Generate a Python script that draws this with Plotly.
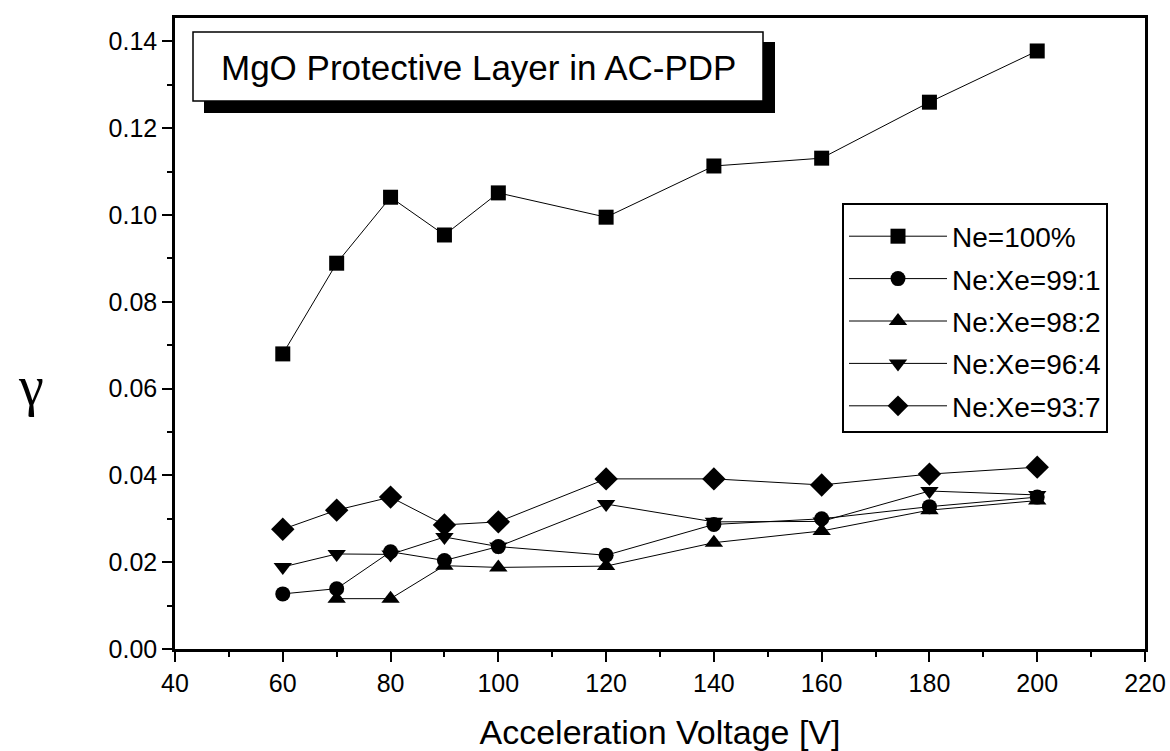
import plotly.graph_objects as go

# ---- data ----
voltage = [60, 70, 80, 90, 100, 120, 140, 160, 180, 200]
ne_100 = [0.0680, 0.0889, 0.1041, 0.0954, 0.1051, 0.0995, 0.1113, 0.1131, 0.1260, 0.1378]
ne_xe_99_1 = [0.0127, 0.0139, 0.0224, 0.0204, 0.0236, 0.0216, 0.0287, 0.0300, 0.0328, 0.0350]
ne_xe_98_2 = [None, 0.0116, 0.0116, 0.0192, 0.0188, 0.0191, 0.0245, 0.0272, 0.0320, 0.0342]
ne_xe_96_4 = [0.0189, 0.0219, 0.0218, 0.0258, 0.0236, 0.0334, 0.0293, 0.0294, 0.0364, 0.0355]
ne_xe_93_7 = [0.0276, 0.0320, 0.0350, 0.0286, 0.0293, 0.0392, 0.0392, 0.0378, 0.0403, 0.0419]

series_names = ["Ne=100%", "Ne:Xe=99:1", "Ne:Xe=98:2", "Ne:Xe=96:4", "Ne:Xe=93:7"]
series_values = [ne_100, ne_xe_99_1, ne_xe_98_2, ne_xe_96_4, ne_xe_93_7]
symbols = ["square", "circle", "triangle-up", "triangle-down", "diamond"]
marker_sizes = [15, 15, 16, 16, 18]

title_text = "MgO Protective Layer in AC-PDP"
x_title = "Acceleration Voltage [V]"
y_title = "γ"

FONT = "Liberation Sans, Arial, sans-serif"

fig = go.Figure()
for i, (name, vals, sym, ms) in enumerate(zip(series_names, series_values, symbols, marker_sizes)):
    fig.add_trace(go.Scatter(
        x=voltage, y=vals, name=name, mode="lines+markers",
        legendgroup=f"g{i}",
        connectgaps=False,
        line=dict(color="black", width=1),
        marker=dict(symbol=sym, size=ms, color="black", line=dict(width=0)),
    ))

# plot-area pixel geometry helpers
L, R, T, B = 175, 1145, 18, 649
W, H = R - L, B - T
def px(xp):
    return (xp - L) / W
def py(yp):
    return (B - yp) / H

shapes = [
    # shadow of the title box
    dict(type="rect", xref="paper", yref="paper",
         x0=px(204), x1=px(775), y0=py(113), y1=py(42),
         fillcolor="black", line=dict(width=0), layer="above"),
    # title box
    dict(type="rect", xref="paper", yref="paper",
         x0=px(193), x1=px(763), y0=py(101), y1=py(32),
         fillcolor="white", line=dict(color="black", width=1.5), layer="above"),
]

annotations = [
    dict(text=title_text, xref="paper", yref="paper",
         x=px(478), y=py(67), xanchor="center", yanchor="middle",
         showarrow=False, font=dict(family=FONT, size=35, color="black")),
    dict(text=y_title, xref="paper", yref="paper",
         x=px(31), y=py(386), xanchor="center", yanchor="middle",
         showarrow=False, font=dict(family="Liberation Serif, Times New Roman, serif", size=56, color="black")),
]

fig.update_layout(
    width=1170, height=751, autosize=False,
    margin=dict(l=L, r=1170 - R, t=T, b=751 - B, pad=0),
    paper_bgcolor="white", plot_bgcolor="white",
    font=dict(family=FONT, color="black"),
    showlegend=True,
    legend=dict(
        x=px(842), y=py(203), xanchor="left", yanchor="top",
        bordercolor="black", borderwidth=2, bgcolor="white",
        font=dict(family=FONT, size=28, color="black"),
        itemwidth=98, tracegroupgap=3,
        title=dict(text=" ", font=dict(size=5)),
    ),
    shapes=shapes,
    annotations=annotations,
    xaxis=dict(
        range=[40, 220], tick0=40, dtick=20, automargin=False,
        ticks="outside", ticklen=10, tickwidth=2, tickcolor="black",
        minor=dict(dtick=10, ticks="outside", ticklen=5, tickwidth=2, tickcolor="black"),
        showline=True, linewidth=2.5, linecolor="black", mirror=True,
        showgrid=False, zeroline=False,
        tickfont=dict(family=FONT, size=25, color="black"),
        title=dict(text=x_title, font=dict(family=FONT, size=34, color="black"), standoff=26),
    ),
    yaxis=dict(
        range=[0, 0.1454], tick0=0, dtick=0.02, tickformat=".2f", automargin=False,
        ticks="outside", ticklen=10, tickwidth=2, tickcolor="black",
        minor=dict(dtick=0.01, ticks="outside", ticklen=5, tickwidth=2, tickcolor="black"),
        showline=True, linewidth=2.5, linecolor="black", mirror=True,
        showgrid=False, zeroline=False,
        tickfont=dict(family=FONT, size=25, color="black"),
    ),
)

fig.write_html("out.html")
